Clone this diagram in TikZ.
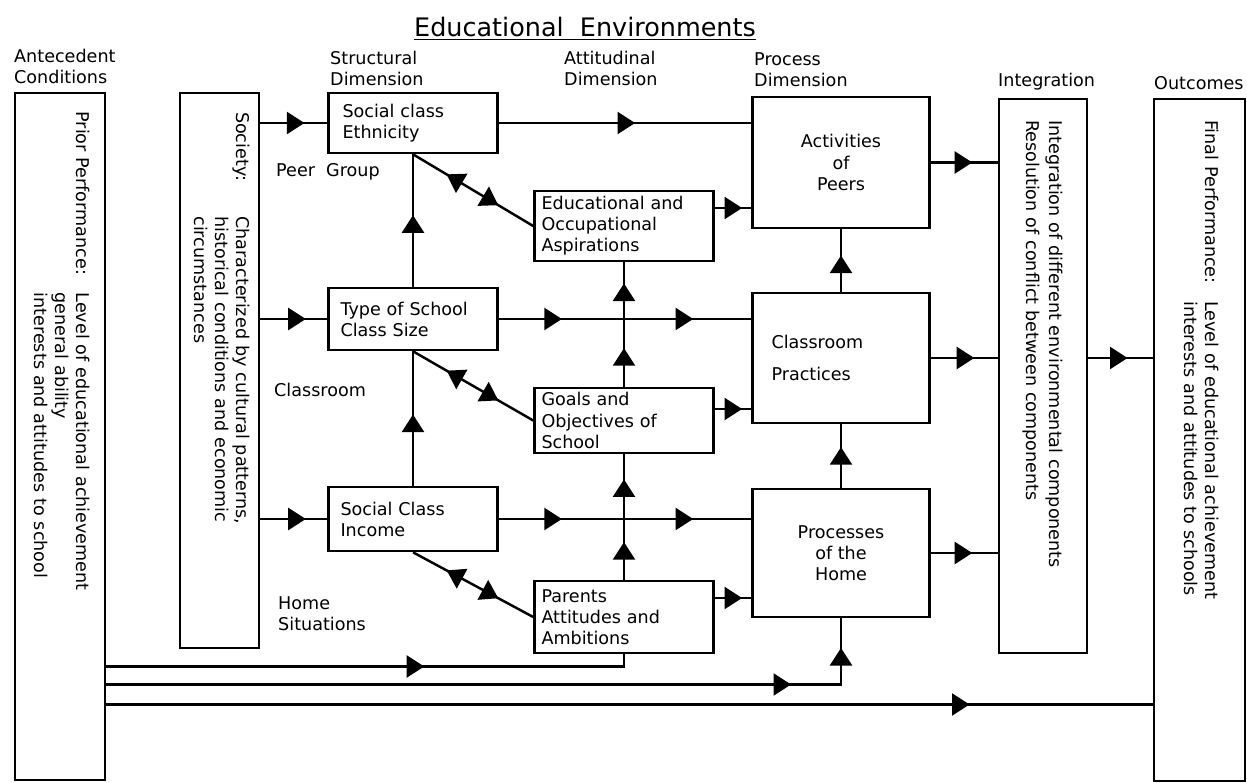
\documentclass[tikz,border=0pt]{standalone}
\usepackage{fontspec}
\setmainfont{DejaVu Sans}
\usetikzlibrary{arrows.meta,decorations.markings,calc}

\tikzset{
  >={Triangle[length=10pt,width=12.5pt]},
  box/.style={draw, line width=1.5pt, rectangle, inner sep=0pt},
  sidebox/.style={box, rotate=-90, align=left},
  head/.style={align=left, anchor=west, inner sep=0pt},
  arr/.style={postaction={decorate,decoration={markings,mark=at position #1 with {\arrow{>}}}}},
  rarr/.style={postaction={decorate,decoration={markings,mark=at position #1 with {\arrowreversed{>}}}}},
}

\begin{document}
\begin{tikzpicture}[x=0.02cm, y=-0.02cm, line width=1.4pt]
\useasboundingbox (0,0) rectangle (1247,783);

\node[head, anchor=center] (title) at (585,29) {\fontsize{14.5}{17}\selectfont\underline{Educational\ \ Environments}};
\node[head] (antec) at (13,66) {Antecedent\\Conditions};
\node[head] (struct) at (329,68) {Structural\\Dimension};
\node[head] (attit) at (563,68) {Attitudinal\\Dimension};
\node[head] (proc) at (753,70) {Process\\Dimension};
\node[head] (integh) at (997,82) {Integration};
\node[head] (outc) at (1153,83) {Outcomes};

\node[sidebox, minimum width=13.74cm, minimum height=1.8cm, text width=13cm] (prior) at (60,436.5)
  {Prior Performance:\quad\begin{tabular}[t]{@{}l@{}}Level of educational achievement\\general ability\\interests and attitudes to school\end{tabular}};
\node[sidebox, minimum width=11.1cm, minimum height=1.58cm, text width=10.34cm] (society) at (219.5,370.5)
  {Society:\hspace{2em}\begin{tabular}[t]{@{}l@{}}Characterized by cultural patterns,\\historical conditions and economic\\circumstances\end{tabular}};
\node[sidebox, minimum width=11.08cm, minimum height=1.76cm, text width=10.24cm] (integ) at (1043,376)
  {Integration of different environmental components\\[1pt]Resolution of conflict between components};
\node[sidebox, minimum width=13.64cm, minimum height=1.82cm, text width=12.8cm] (final) at (1199.5,440)
  {Final Performance:\quad\begin{tabular}[t]{@{}l@{}}Level of educational achievement\\interests and attitudes to schools\end{tabular}};

\node[box, minimum width=3.38cm, minimum height=1.2cm, text width=2.82cm, align=left] (ethnic) at (413,123) {Social class\\Ethnicity};
\node[box, minimum width=3.38cm, minimum height=1.24cm, text width=2.9cm, align=left] (school) at (413,319) {Type of School\\Class Size};
\node[box, minimum width=3.38cm, minimum height=1.28cm, text width=2.9cm, align=left] (income) at (413,519) {Social Class\\Income};

\node[box, minimum width=3.58cm, minimum height=1.4cm, text width=3.3cm, align=left] (edu) at (624,226) {Educational and\\Occupational\\Aspirations};
\node[box, minimum width=3.58cm, minimum height=1.3cm, text width=3.3cm, align=left] (goals) at (624,420.5) {Goals and\\Objectives of\\School};
\node[box, minimum width=3.58cm, minimum height=1.44cm, text width=3.3cm, align=left] (parents) at (624,617) {Parents\\Attitudes and\\Ambitions};

\node[box, minimum width=3.54cm, minimum height=2.62cm, align=center] (act) at (841,162.5) {Activities\\of\\Peers};
\node[box, minimum width=3.54cm, minimum height=2.6cm, text width=2.78cm, align=left] (classroom) at (841,358) {Classroom\\[6pt]Practices\\[8pt]};
\node[box, minimum width=3.54cm, minimum height=2.56cm, align=center] (processes) at (841,553) {Processes\\of the\\Home};

\node[head] (peer) at (275,172) {Peer\ \ Group};
\node[head] (classr) at (273,390) {Classroom};
\node[head] (home) at (277,614) {Home\\Situations};

\draw[arr=0.66] (society.north |- ethnic.west) -- (ethnic.west);
\draw[arr=0.68] (society.north |- school.west) -- (school.west);
\draw[arr=0.68] (society.north |- income.west) -- (income.west);
\draw[arr=0.54] (ethnic.east) -- (ethnic.east -| act.west);
\draw[arr=0.25, arr=0.77] (school.east) -- (school.east -| classroom.west);
\draw[arr=0.25, arr=0.77] (income.east) -- (income.east -| processes.west);
\draw[arr=0.54] (school.north) -- (ethnic.south);
\draw[arr=0.53] (income.north) -- (school.south);
\draw[rarr=0.28, arr=0.71] (ethnic.south) -- (edu.west);
\draw[rarr=0.28, arr=0.71] (school.south) -- (goals.west);
\draw[rarr=0.28, arr=0.71] (income.south) -- (parents.west);
\draw[arr=0.30, arr=0.80] (parents.north) -- (goals.south);
\draw[arr=0.31, arr=0.83] (goals.north) -- (edu.south);

\coordinate (e1) at ([yshift=0.36cm]edu.east);
\coordinate (g1) at ([yshift=0.23cm]goals.east);
\coordinate (a1) at ([yshift=0.38cm]parents.east);
\draw[arr=0.75] (e1) -- (e1 -| act.west);
\draw[arr=0.75] (g1) -- (g1 -| classroom.west);
\draw[arr=0.75] (a1) -- (a1 -| processes.west);
\draw[arr=0.58] (classroom.north) -- (act.south);
\draw[arr=0.64] (processes.north) -- (classroom.south);

\draw[arr=0.62] (act.east) -- (act.east -| integ.south);
\draw[arr=0.65] (classroom.east) -- (classroom.east -| integ.south);
\draw[arr=0.62] (processes.east) -- (processes.east -| integ.south);
\draw[arr=0.61] (integ.north |- classroom.east) -- (final.south |- classroom.east);

\coordinate (p1) at ($(prior.north)+(0,230)$);
\coordinate (p2) at ($(prior.north)+(0,248)$);
\coordinate (p3) at ($(prior.north)+(0,268)$);
\draw[arr=0.6] (p1) -| (parents.south);
\draw[arr=0.855, arr=0.963] (p2) -| (processes.south);
\draw[arr=0.825] (p3) -- (p3 -| final.south);
\end{tikzpicture}
\end{document}
